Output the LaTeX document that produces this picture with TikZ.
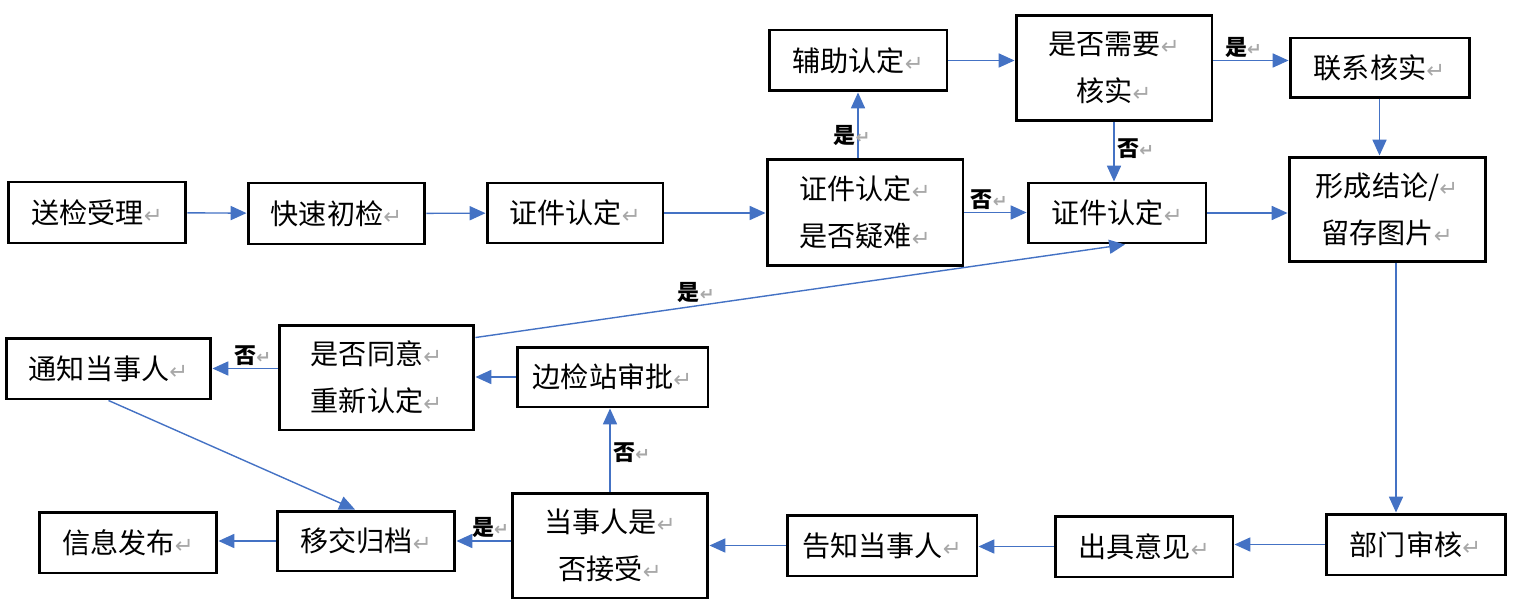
\documentclass[tikz,border=0pt]{standalone}
\usepackage{fontspec}
\usepackage{xcolor}
\usepackage{tikz}
\usetikzlibrary{arrows.meta, positioning}
\setmainfont{Noto Sans CJK SC}
\newfontfamily\retfont[Scale=0.8]{DejaVu Sans}
\definecolor{lineblue}{HTML}{4472C4}
\definecolor{retgray}{HTML}{A8A8A8}
\newcommand{\crmark}{{\retfont\textcolor{retgray}{↵}}}
\tikzstyle{box} = [rectangle, draw=black, line width=1.7pt, inner sep=1pt, align=center, font=\fontsize{16}{26.5}\selectfont]
\tikzstyle{tag} = [inner sep=1.5pt, font=\fontsize{12.5}{13}\selectfont\bfseries]
\tikzstyle{arrow} = [draw=lineblue, line width=0.8pt, -{Triangle[length=9pt,width=8pt]}]
\begin{document}
\begin{tikzpicture}[x=0.02cm, y=-0.02cm]
\useasboundingbox (0,0) rectangle (1513,601);

% upper row
\node (sj) [box, minimum width=3.56cm, minimum height=1.22cm] at (97,212.5) {送检受理\crmark};
\node (ks) [box, minimum width=3.54cm, minimum height=1.22cm] at (336.5,213.5) {快速初检\crmark};
\node (rz1) [box, minimum width=3.52cm, minimum height=1.2cm] at (575,213) {证件认定\crmark};
\node (yn) [box, minimum width=3.92cm, minimum height=2.12cm] at (865,212.5) {证件认定\crmark\\是否疑难\crmark};
\node (fz) [box, minimum width=3.56cm, minimum height=1.22cm] at (858,60.5) {辅助认定\crmark};
\node (xf) [box, minimum width=3.92cm, minimum height=2.12cm] at (1114,68) {是否需要\crmark\\核实\crmark};
\node (rz2) [box, minimum width=3.56cm, minimum height=1.2cm] at (1117,213) {证件认定\crmark};
\node (lx) [box, minimum width=3.58cm, minimum height=1.2cm] at (1379.5,68) {联系核实\crmark};
\node (jl) [box, minimum width=3.92cm, minimum height=2.1cm] at (1387,209.5) {形成结论/\crmark\\留存图片\crmark};

% middle row
\node (tz) [box, minimum width=4.1cm, minimum height=1.22cm] at (108.5,368.5) {通知当事人\crmark};
\node (ty) [box, minimum width=3.9cm, minimum height=2.1cm] at (376.5,377.5) {是否同意\crmark\\重新认定\crmark};
\node (bj) [box, minimum width=3.82cm, minimum height=1.2cm] at (612.5,377) {边检站审批\crmark};

% lower row
\node (xx) [box, minimum width=3.56cm, minimum height=1.22cm] at (128,542.5) {信息发布\crmark};
\node (yj) [box, minimum width=3.56cm, minimum height=1.2cm] at (366,541) {移交归档\crmark};
\node (js) [box, minimum width=3.92cm, minimum height=2.1cm] at (610,545.5) {当事人是\crmark\\否接受\crmark};
\node (gz) [box, minimum width=3.8cm, minimum height=1.22cm] at (882,545.5) {告知当事人\crmark};
\node (cj) [box, minimum width=3.56cm, minimum height=1.22cm] at (1144,546.5) {出具意见\crmark};
\node (bm) [box, minimum width=3.58cm, minimum height=1.22cm] at (1415.5,544.5) {部门审核\crmark};

\draw [arrow] (sj) -- (ks);
\draw [arrow] (ks) -- (rz1);
\draw [arrow] (rz1.east) -- (rz1.east -| yn.west);
\draw [arrow] (yn.east) -- node[tag, above, pos=0.4] {否\crmark} (yn.east -| rz2.west);
\draw [arrow] (yn.north -| fz.south) -- node[tag, pos=0.35, xshift=-0.12cm] {是\crmark} (fz.south);
\draw [arrow] (fz.east) -- (fz.east -| xf.west);
\draw [arrow] (xf.east |- fz.east) -- node[tag, above, pos=0.4] {是\crmark} (fz.east -| lx.west);
\draw [arrow] (xf.south) -- node[tag, right, pos=0.45] {否\crmark} (xf.south |- rz2.north);
\draw [arrow] (rz2.east) -- (rz2.east -| jl.west);
\draw [arrow] (lx.south) -- (lx.south |- jl.north);
\draw [arrow] ([xshift=0.18cm]jl.south) -- ([xshift=0.18cm]jl.south |- bm.north);
\draw [arrow] (bm.west) -- (bm.west -| cj.east);
\draw [arrow] (cj.west) -- (cj.west -| gz.east);
\draw [arrow] (gz.west) -- (gz.west -| js.east);
\draw [arrow] (js.west |- yj.east) -- node[tag, above, pos=0.37] {是\crmark} (yj.east);
\draw [arrow] (yj.west) -- (yj.west -| xx.east);
\draw [arrow] (js.north) -- node[tag, right, pos=0.47] {否\crmark} (js.north |- bj.south);
\draw [arrow] (bj.west) -- (bj.west -| ty.east);
\draw [arrow] (ty.west |- tz.east) -- node[tag, above, pos=0.38] {否\crmark} (tz.east);
\draw [arrow] ([yshift=-0.28cm]ty.north east) -- node[tag, above, pos=0.34] {是\crmark} ([xshift=0.16cm]rz2.south);
\draw [arrow] (tz.south) -- ([xshift=-0.22cm]yj.north);

\end{tikzpicture}
\end{document}
